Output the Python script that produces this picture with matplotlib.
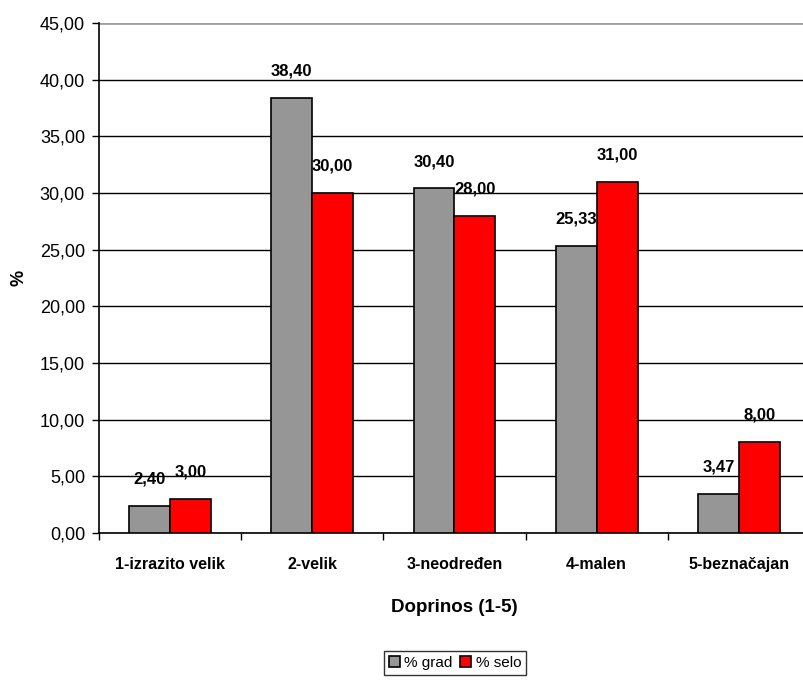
import numpy as np
import matplotlib
matplotlib.use("Agg")
import matplotlib.pyplot as plt
from matplotlib.ticker import FuncFormatter, FixedLocator

# Chart data
categories = ["1-izrazito velik", "2-velik", "3-neodređen", "4-malen", "5-beznačajan"]
grad = [2.40, 38.40, 30.40, 25.33, 3.47]
selo = [3.00, 30.00, 28.00, 31.00, 8.00]
series_names = ["% grad", "% selo"]

plt.rcParams['font.family'] = ['Liberation Sans', 'DejaVu Sans']

fig = plt.figure(figsize=(8.04, 6.91), dpi=100)
ax = fig.add_axes([0.1231, 0.2287, 0.8843, 0.738])

x = np.arange(len(categories))
w = 0.288
b1 = ax.bar(x - w / 2, grad, w, color='#969696', edgecolor='black', linewidth=1.2,
            label=series_names[0], zorder=3)
b2 = ax.bar(x + w / 2, selo, w, color='#ff0000', edgecolor='black', linewidth=1.2,
            label=series_names[1], zorder=3)

# value labels above bars
for bars, vals in ((b1, grad), (b2, selo)):
    for rect, v in zip(bars, vals):
        ax.annotate(f"{v:.2f}".replace('.', ','),
                    (rect.get_x() + rect.get_width() / 2, v),
                    xytext=(0, 14), textcoords='offset points',
                    ha='center', va='bottom', fontsize=12, fontweight='bold', zorder=4)

ax.set_xlim(-0.5, len(categories) - 0.5)
ax.set_ylim(0, 45)
ax.set_yticks(np.arange(0, 46, 5))
ax.yaxis.set_major_formatter(FuncFormatter(lambda v, p: f"{v:.2f}".replace('.', ',')))
ax.tick_params(axis='y', labelsize=13, length=5, width=1, direction='out', pad=5)

# category boundaries as tick marks, labels at centres
ax.xaxis.set_major_locator(FixedLocator(np.arange(len(categories) + 1) - 0.5))
ax.xaxis.set_minor_locator(FixedLocator(x))
ax.set_xticklabels([''] * (len(categories) + 1))
ax.set_xticklabels(categories, minor=True, fontsize=11.5, fontweight='bold')
ax.tick_params(axis='x', which='major', length=5, width=1, direction='out')
ax.tick_params(axis='x', which='minor', length=0, pad=17)

ax.yaxis.grid(True, color='black', linewidth=1, zorder=0)
ax.get_ygridlines()[-1].set_color('#a0a0a0')
ax.get_ygridlines()[-1].set_linewidth(2)
ax.set_axisbelow(True)
for s in ('top', 'right'):
    ax.spines[s].set_visible(False)
ax.spines['left'].set_linewidth(1.2)
ax.spines['bottom'].set_linewidth(1.2)

ax.set_xlabel("Doprinos (1-5)", fontsize=13.5, fontweight='bold', labelpad=20)
ax.set_ylabel("%", fontsize=13, fontweight='bold', labelpad=9)

leg = fig.legend(loc='center', bbox_to_anchor=(0.566, 0.0405), ncol=2, fontsize=11,
                 frameon=True, fancybox=False, edgecolor='black', handlelength=0.7,
                 handleheight=0.7, handletextpad=0.3, columnspacing=0.5,
                 borderpad=0.35)
leg.get_frame().set_linewidth(1)

fig.savefig("out.png", dpi=100)
